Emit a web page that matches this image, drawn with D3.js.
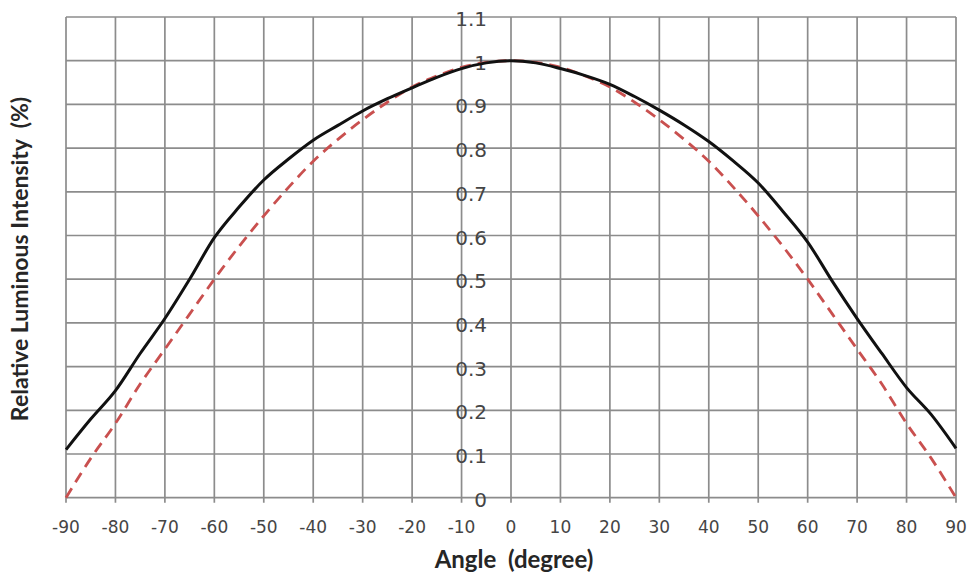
<!DOCTYPE html>
<html>
<head>
<meta charset="utf-8">
<script src="https://cdn.jsdelivr.net/npm/d3@7"></script>
<style>
    html, body { margin: 0; padding: 0; background: #fff; }
    svg { display: block; }
    .grid line { stroke: #8c8c8c; stroke-width: 1.7; }
    .tick-label { font-family: "DejaVu Sans", sans-serif; fill: #454545; }
    .axis-title { font-family: Lato, "Open Sans", sans-serif; font-weight: bold; fill: #262626; white-space: pre; }
</style>
</head>
<body>
<svg id="chart"></svg>
<script>
// angle in degrees, intensity relative to the on-axis value
var angles = [-90, -85, -80, -75, -70, -65, -60, -55, -50, -45, -40, -35, -30, -25, -20, -15, -10, -5,
    0, 5, 10, 15, 20, 25, 30, 35, 40, 45, 50, 55, 60, 65, 70, 75, 80, 85, 90];
var measured = [0.11, 0.18, 0.245, 0.33, 0.41, 0.50, 0.595, 0.665, 0.727, 0.775, 0.818, 0.852, 0.885, 0.913, 0.938, 0.962, 0.982, 0.995,
    1.0, 0.995, 0.982, 0.966, 0.946, 0.918, 0.887, 0.853, 0.815, 0.77, 0.72, 0.655, 0.585, 0.495, 0.41, 0.33, 0.252, 0.19, 0.113];
var lambertian = [0, 0.09, 0.17, 0.26, 0.34, 0.42, 0.5, 0.575, 0.645, 0.71, 0.77, 0.82, 0.865, 0.905, 0.94, 0.965, 0.985, 0.996,
    1.0, 0.996, 0.985, 0.965, 0.94, 0.905, 0.865, 0.82, 0.77, 0.71, 0.645, 0.575, 0.5, 0.42, 0.34, 0.26, 0.17, 0.09, 0];
var xTickValues = [-90, -80, -70, -60, -50, -40, -30, -20, -10, 0, 10, 20, 30, 40, 50, 60, 70, 80, 90];
var yTickValues = [0, 0.1, 0.2, 0.3, 0.4, 0.5, 0.6, 0.7, 0.8, 0.9, 1, 1.1];

(function() {
    var WIDTH = 977;
    var HEIGHT = 577;
    var plot = { left: 66, right: 956, top: 17, bottom: 497.7 };

    var svg = d3.select("#chart")
        .attr("width", WIDTH)
        .attr("height", HEIGHT)
        .attr("viewBox", "0 0 " + WIDTH + " " + HEIGHT);

    var x = d3.scaleLinear().domain([-90, 90]).range([plot.left, plot.right]);
    var y = d3.scaleLinear().domain([0, 1.1]).range([plot.bottom, plot.top]);

    var grid = svg.append("g").attr("class", "grid");

    grid.selectAll(".v-line")
        .data(xTickValues)
        .enter()
        .append("line")
        .attr("class", "v-line")
        .attr("x1", function(d) { return x(d); })
        .attr("x2", function(d) { return x(d); })
        .attr("y1", plot.top)
        .attr("y2", plot.bottom + 5);

    grid.selectAll(".h-line")
        .data(yTickValues)
        .enter()
        .append("line")
        .attr("class", "h-line")
        .attr("x1", plot.left)
        .attr("x2", plot.right)
        .attr("y1", function(d) { return y(d); })
        .attr("y2", function(d) { return y(d); });

    // x tick labels under the plot
    svg.append("g")
        .selectAll("text")
        .data(xTickValues)
        .enter()
        .append("text")
        .attr("class", "tick-label")
        .style("font-size", "17px")
        .attr("x", function(d) { return x(d); })
        .attr("y", 533)
        .attr("text-anchor", "middle")
        .text(function(d) { return d; });

    // y tick labels sit inside the plot, next to the 0 degree line
    svg.append("g")
        .selectAll("text")
        .data(yTickValues)
        .enter()
        .append("text")
        .attr("class", "tick-label")
        .style("font-size", "20px")
        .attr("x", x(0) - 24)
        .attr("y", function(d) { return y(d) + 9; })
        .attr("text-anchor", "end")
        .text(function(d) { return d3.format("")(+d.toFixed(1)); });

    var line = d3.line()
        .x(function(d) { return x(d[0]); })
        .y(function(d) { return y(d[1]); })
        .curve(d3.curveMonotoneX);

    svg.append("path")
        .datum(d3.zip(angles, lambertian))
        .attr("fill", "none")
        .attr("stroke", "#c9504f")
        .attr("stroke-width", 2.8)
        .attr("stroke-dasharray", "11,7")
        .attr("d", line);

    svg.append("path")
        .datum(d3.zip(angles, measured))
        .attr("fill", "none")
        .attr("stroke", "#111")
        .attr("stroke-width", 3)
        .attr("stroke-linejoin", "round")
        .attr("d", line);

    svg.append("text")
        .attr("class", "axis-title")
        .attr("x", 514)
        .attr("y", 568)
        .attr("text-anchor", "middle")
        .style("font-size", "24px")
        .text("Angle  (degree)");

    svg.append("text")
        .attr("class", "axis-title")
        .attr("transform", "translate(28,259) rotate(-90)")
        .attr("text-anchor", "middle")
        .style("font-size", "23px")
        .text("Relative Luminous Intensity  (%)");
})();
</script>
</body>
</html>
